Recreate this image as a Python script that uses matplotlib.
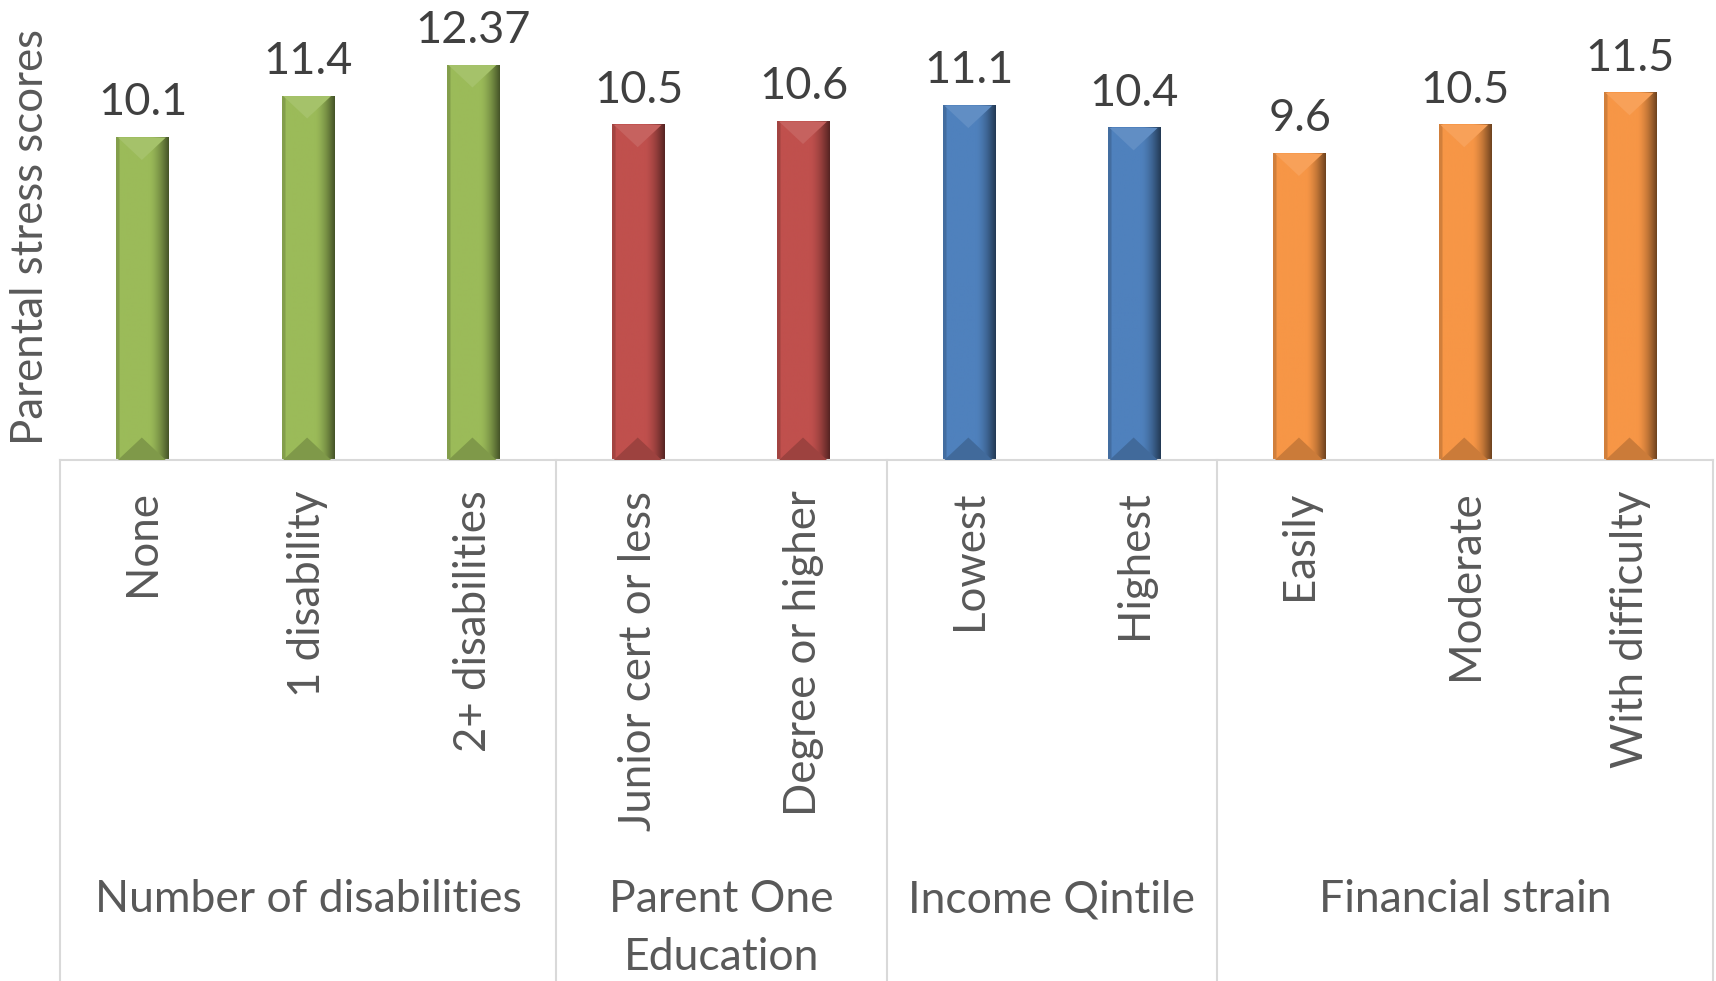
import numpy as np
import matplotlib
matplotlib.use('Agg')
import matplotlib.pyplot as plt
from matplotlib.colors import to_rgb
from matplotlib.patches import Polygon
from matplotlib.transforms import ScaledTranslation

plt.rcParams['font.family'] = ['Lato', 'DejaVu Sans']

groups = ['Number of disabilities', 'Parent One\nEducation', 'Income Qintile', 'Financial strain']
group_sizes = [3, 2, 2, 3]
group_colours = ['#9BBB59', '#C0504D', '#4F81BD', '#F79646']
categories = ['None', '1 disability', '2+ disabilities',
              'Junior cert or less', 'Degree or higher',
              'Lowest', 'Highest',
              'Easily', 'Moderate', 'With difficulty']
scores = [10.1, 11.4, 12.37, 10.5, 10.6, 11.1, 10.4, 9.6, 10.5, 11.5]

W, H, DPI = 17.16, 9.81, 100
fig = plt.figure(figsize=(W, H), dpi=DPI)
ax_left, ax_bottom, ax_w, ax_h = 60 / 1716, 521 / 981, 1653 / 1716, 447 / 981
ax = fig.add_axes([ax_left, ax_bottom, ax_w, ax_h])

ymax = 14
n = len(scores)
ax.set_xlim(-0.5, n - 0.5)
ax.set_ylim(0, ymax)

# pixels per data unit, used to size the bevel facets
px_x = ax_w * W * DPI / n
px_y = ax_h * H * DPI / ymax

bar_w = 0.32
colours = []
for g, size in enumerate(group_sizes):
    colours += [group_colours[g]] * size


def shade(c, f):
    c = np.array(to_rgb(c))
    if f <= 1:
        return tuple(c * f)
    return tuple(c + (1 - c) * (f - 1))


# horizontal shading across a bar: thin dark left edge, flat middle, dark right edge
t = np.linspace(0, 1, 60)
prof = np.ones_like(t)
prof[t < 0.06] = 0.85
right = t > 0.62
prof[right] = 1 - 0.55 * ((t[right] - 0.62) / 0.38) ** 1.6

label_offset = ScaledTranslation(0, 16 / 72, fig.dpi_scale_trans)
for i, (v, c) in enumerate(zip(scores, colours)):
    x0, x1 = i - bar_w / 2, i + bar_w / 2
    grad = np.array([[shade(c, f) for f in prof]])
    ax.imshow(grad, extent=[x0, x1, 0, v], aspect='auto', zorder=2, interpolation='bilinear')
    d = (bar_w / 2) * px_x / px_y * 0.85
    top = Polygon([(x0 + 0.01, v), (x1 - 0.02, v), (i - 0.005, v - d)], closed=True,
                  facecolor=shade(c, 1.1), edgecolor='none', zorder=3)
    bot = Polygon([(x0 + 0.01, 0), (x1 - 0.02, 0), (i - 0.005, d)], closed=True,
                  facecolor=shade(c, 0.82), edgecolor='none', zorder=3)
    ax.add_patch(top)
    ax.add_patch(bot)
    ax.text(i, v, f'{v:g}', ha='center', va='baseline', fontsize=32.5, color='#404040',
            transform=ax.transData + label_offset)

ax.set_xlim(-0.5, n - 0.5)
ax.set_ylim(0, ymax)

ax.set_xticks(range(n))
ax.set_xticklabels(categories, rotation=90, fontsize=31.5, color='#595959', va='top')
ax.tick_params(axis='x', length=0, pad=22)
ax.set_yticks([])
for s in ['top', 'right', 'left']:
    ax.spines[s].set_visible(False)
ax.spines['bottom'].set_color('#D9D9D9')
ax.spines['bottom'].set_linewidth(1.5)

# group separators of the category axis
edges = np.cumsum([0] + group_sizes) - 0.5
for e in edges:
    ax.plot([e, e], [0, -1.3], color='#D9D9D9', lw=1.5, clip_on=False,
            transform=ax.get_xaxis_transform())

for g, size in enumerate(group_sizes):
    xc = (edges[g] + edges[g + 1]) / 2
    ax.text(xc, -0.938, groups[g], ha='center', va='top', fontsize=32, color='#595959',
            linespacing=1.5, transform=ax.get_xaxis_transform())

fig.text(30.6 / 1716, 1 - 237 / 981, 'Parental stress scores', rotation=90,
         ha='center', va='center', fontsize=31.5, color='#595959')

fig.savefig('out.png', dpi=DPI)
